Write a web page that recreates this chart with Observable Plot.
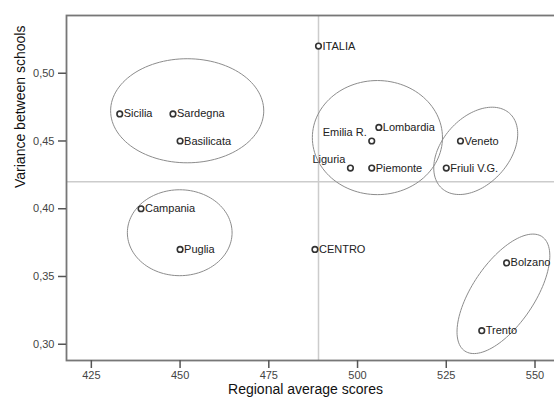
<!DOCTYPE html>
<html>
<head>
<meta charset="utf-8">
<script src="https://cdn.jsdelivr.net/npm/d3@7"></script>
<script src="https://cdn.jsdelivr.net/npm/@observablehq/plot@0.6"></script>
<style>
html, body { margin: 0; padding: 0; overflow: hidden; background: #fff; }
#chart { width: 554px; height: 399px; overflow: hidden; }
#chart svg { max-width: none !important; }
</style>
</head>
<body>
<div id="chart"></div>
<script>
// Data
const regions = ["ITALIA","Sicilia","Sardegna","Basilicata","Campania","Puglia","CENTRO","Bolzano","Trento","Lombardia","Emilia R.","Liguria","Piemonte","Veneto","Friuli V.G."];
const scores = [489, 433, 448, 450, 439, 450, 488, 542, 535, 506, 504, 498, 504, 529, 525];
const variance = [0.52, 0.47, 0.47, 0.45, 0.40, 0.37, 0.37, 0.36, 0.31, 0.46, 0.45, 0.43, 0.43, 0.45, 0.43];
const labelSide = ["right","right","right","right","right","right","right","right","right","right","left","left","right","right","right"];

const xTicks = [425, 450, 475, 500, 525, 550];
const yTicks = [0.30, 0.35, 0.40, 0.45, 0.50];
const italiaScore = 489;
const meanVariance = 0.42;

// Group ellipses: center and two conjugate semi-diameters (data units)
const ellipseCx = [452.0, 449.9, 505.6, 533.3, 541.1];
const ellipseCy = [0.4723, 0.3823, 0.4525, 0.4427, 0.3372];
const ellipseAx = [21.57, 14.75, 18.33, 9.55, 10.88];
const ellipseAy = [0, 0, 0, 0.02766, 0.0422];
const ellipseBx = [0, 0, 0, 6.98, 7.25];
const ellipseBy = [0.0384, 0.0317, 0.0421, -0.01653, -0.01277];

const data = regions.map((r, i) => ({region: r, score: scores[i], variance: variance[i], side: labelSide[i]}));

const ellipsePts = [];
ellipseCx.forEach((cx, k) => {
  for (let j = 0; j < 120; j++) {
    const t = (j / 120) * 2 * Math.PI;
    ellipsePts.push({
      id: k,
      x: cx + ellipseAx[k] * Math.cos(t) + ellipseBx[k] * Math.sin(t),
      y: ellipseCy[k] + ellipseAy[k] * Math.cos(t) + ellipseBy[k] * Math.sin(t)
    });
  }
});

const fmt = d => d.toFixed(2).replace(".", ",");

const chart = Plot.plot({
  width: 580,
  height: 399,
  marginLeft: 66,
  marginRight: 10,
  marginTop: 15,
  marginBottom: 39,
  style: {fontFamily: "'Liberation Sans', Arial, sans-serif", background: "#fff", overflow: "visible", maxWidth: "none"},
  x: {domain: [418, 560]},
  y: {domain: [0.288, 0.5426]},
  marks: [
    Plot.ruleX([italiaScore], {stroke: "#cccccc", strokeWidth: 1.5}),
    Plot.ruleY([meanVariance], {stroke: "#cccccc", strokeWidth: 1.5}),
    Plot.line(ellipsePts, {x: "x", y: "y", z: "id", curve: "linear-closed", stroke: "#8c8c8c", strokeWidth: 1}),
    Plot.frame({stroke: "#777", strokeWidth: 1.8}),
    Plot.axisX({ticks: xTicks, tickSize: 8, tickPadding: 3, fontSize: 11, color: "#444", stroke: "#555", strokeWidth: 1.5, label: null, tickFormat: d => String(d)}),
    Plot.axisY({ticks: yTicks, tickSize: 8, tickPadding: 4, fontSize: 11, color: "#444", stroke: "#555", strokeWidth: 1.5, label: null, tickFormat: fmt}),
    Plot.text(["Regional average scores"], {frameAnchor: "bottom", dy: 33, dx: -13, fontSize: 14, fill: "#111"}),
    Plot.text(["Variance between schools"], {frameAnchor: "left", rotate: -90, dx: -46, fontSize: 14, fill: "#111"}),
    Plot.dot(data, {x: "score", y: "variance", r: 2.8, stroke: "#333", strokeWidth: 1.6, fill: "white"}),
    Plot.text(data.filter(d => d.side === "right"), {x: "score", y: "variance", text: "region", textAnchor: "start", dx: 4, fontSize: 11, fill: "#222"}),
    Plot.text(data.filter(d => d.side === "left"), {x: "score", y: "variance", text: "region", textAnchor: "end", dx: -5, dy: -9, fontSize: 11, fill: "#222"})
  ]
});
document.getElementById("chart").appendChild(chart);
</script>
</body>
</html>
